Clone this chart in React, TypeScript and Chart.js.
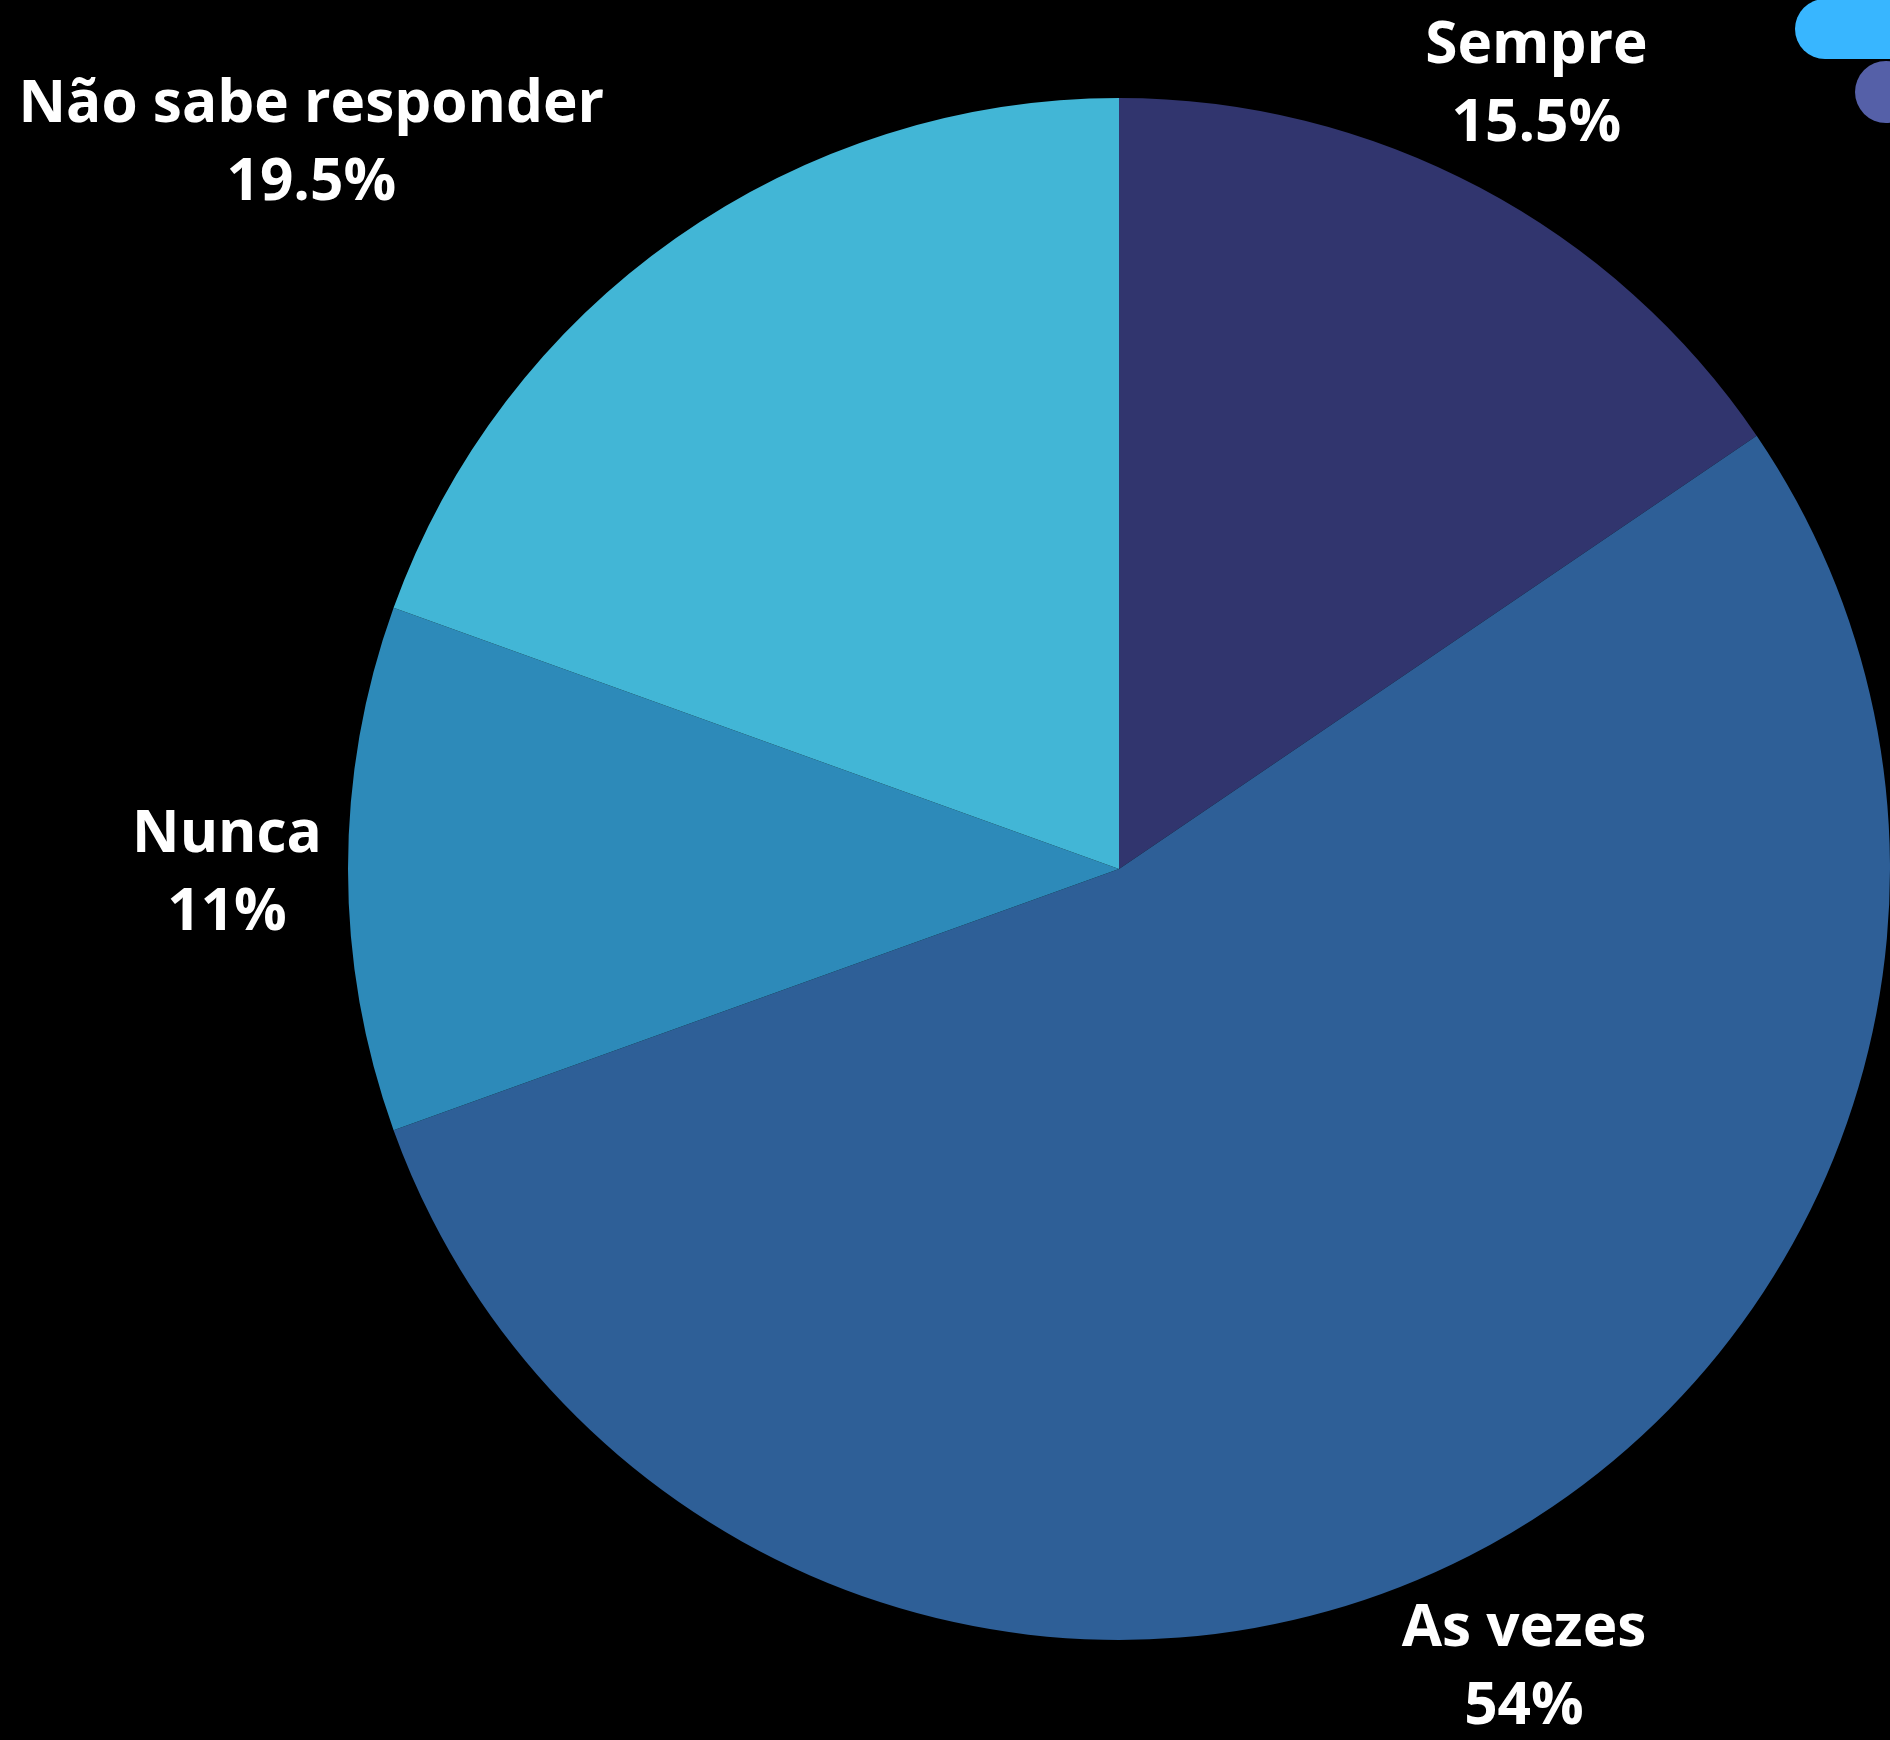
import React, { useEffect, useRef } from "react";
import { Chart, registerables } from "chart.js";

Chart.register(...registerables);

const categories = ["Sempre", "As vezes", "Nunca", "Não sabe responder"];
const values = [15.5, 54, 11, 19.5];
const valueLabels = ["15.5%", "54%", "11%", "19.5%"];
const colors = ["#31356E", "#2E5F97", "#2D8AB9", "#42B6D6"];

const FONT = "bold 58.5px 'Open Sans', 'Noto Sans', sans-serif";
const LINE_H = 78;

const outsideLabels = {
  id: "outsideLabels",
  afterDatasetsDraw(chart: any) {
    const ctx = chart.ctx as CanvasRenderingContext2D;
    const meta = chart.getDatasetMeta(0);
    ctx.save();
    ctx.font = FONT;
    ctx.fillStyle = "#ffffff";
    ctx.textBaseline = "middle";
    meta.data.forEach((arc: any, i: number) => {
      const { x, y, startAngle, endAngle, outerRadius } = arc.getProps(
        ["x", "y", "startAngle", "endAngle", "outerRadius"],
        true
      );
      const mid = (startAngle + endAngle) / 2;
      const r = outerRadius + 121;
      const ax = x + Math.cos(mid) * r;
      const ay = y + Math.sin(mid) * r + 5;
      const lines = [categories[i], valueLabels[i]];
      const w = Math.max(...lines.map((l) => ctx.measureText(l).width));
      const top = ay - LINE_H / 2 - 22;
      const bottom = ay + LINE_H / 2 + 22;
      let cx = ax;
      const nearX = Math.max(cx - w / 2, Math.min(x, cx + w / 2));
      const nearY = Math.max(top, Math.min(y, bottom));
      const d = Math.hypot(nearX - x, nearY - y);
      if (d < outerRadius) {
        cx = ax < x ? ax - w / 2 - 2 : ax + w / 2;
      }
      ctx.textAlign = "center";
      ctx.fillText(lines[0], cx, ay - LINE_H / 2);
      ctx.fillText(lines[1], cx, ay + LINE_H / 2);
    });
    ctx.restore();
  },
};

const cornerMarks = {
  id: "cornerMarks",
  afterDraw(chart: any) {
    const ctx = chart.ctx as CanvasRenderingContext2D;
    const W = chart.width;
    ctx.save();
    ctx.fillStyle = "#38B6FF";
    ctx.beginPath();
    ctx.arc(W - 65, 29, 30, Math.PI / 2, (Math.PI * 3) / 2);
    ctx.lineTo(W + 40, -1);
    ctx.lineTo(W + 40, 59);
    ctx.closePath();
    ctx.fill();
    ctx.fillStyle = "#5560A8";
    ctx.beginPath();
    ctx.arc(W - 4, 92, 31, 0, Math.PI * 2);
    ctx.fill();
    ctx.restore();
  },
};

export default function App() {
  const ref = useRef<HTMLCanvasElement | null>(null);
  useEffect(() => {
    if (!ref.current) return;
    const chart = new Chart(ref.current, {
      type: "pie",
      data: {
        labels: categories,
        datasets: [
          {
            data: values,
            backgroundColor: colors,
            borderWidth: 0,
          },
        ],
      },
      options: {
        responsive: false,
        animation: false,
        layout: { padding: { left: 348, right: 0, top: 98, bottom: 100 } },
        plugins: {
          legend: { display: false },
          tooltip: { enabled: false },
        },
      },
      plugins: [outsideLabels, cornerMarks],
    });
    return () => chart.destroy();
  }, []);
  return (
    <div
      style={{
        position: "fixed",
        left: 0,
        top: 0,
        width: 1890,
        height: 1740,
        background: "#000000",
      }}
    >
      <canvas ref={ref} width={1890} height={1740} style={{ display: "block" }} />
    </div>
  );
}
